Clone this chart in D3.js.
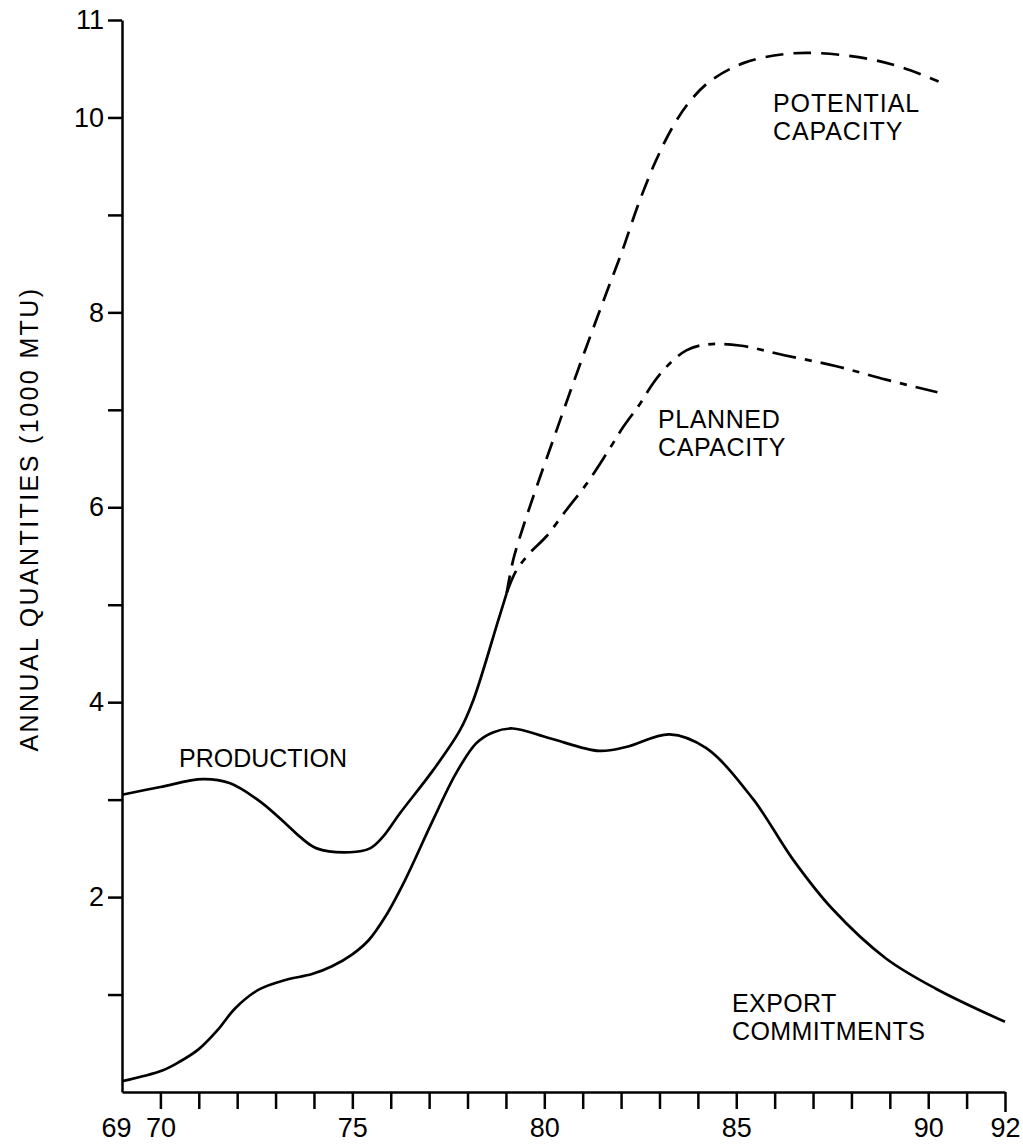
<!DOCTYPE html>
<html>
<head>
	<meta charset="utf-8" />
	<style>
		body {
			margin: 0;
			background-color: #fff;
		}
		svg {
			display: block;
			font-family: 'Liberation Sans', Arial, sans-serif;
		}
		.axis path, .axis line {
			stroke: #000;
			stroke-width: 2.5px;
		}
		.axis text {
			fill: #000;
			font-family: 'Liberation Sans', Arial, sans-serif;
			font-size: 27px;
		}
		.curve {
			fill: none;
			stroke: #000;
			stroke-width: 2.7px;
			stroke-linejoin: round;
		}
		.lbl {
			font-size: 25px;
			fill: #000;
		}
	</style>
</head>
<body>
<div class='chart'></div>

<script src="https://d3js.org/d3.v7.min.js"></script>
<script>

//// Data (years 1969-1992, 1000 MTU) ////
var prodYears  = [69.0, 70.0, 71.1, 71.8, 72.6, 73.3, 73.63, 74.07, 74.94, 75.46, 75.8, 76.24, 77.1, 77.8, 78.15, 78.8, 79.02];
var prodValues = [3.05, 3.13, 3.21, 3.17, 2.98, 2.74, 2.62, 2.50, 2.46, 2.50, 2.62, 2.86, 3.30, 3.71, 4.02, 4.84, 5.12];

var exportYears  = [69.0, 70.05, 70.5, 71.0, 71.5, 71.95, 72.56, 73.26, 73.95, 74.47, 74.99, 75.43, 75.86, 76.38, 77.1, 77.7, 78.23, 78.66, 79.18, 80.14, 81.43, 82.13, 83.26, 84.21, 85.43, 86.47, 87.5, 88.9, 90.2, 92.0];
var exportValues = [0.11, 0.22, 0.31, 0.44, 0.64, 0.86, 1.05, 1.15, 1.21, 1.29, 1.41, 1.56, 1.80, 2.18, 2.79, 3.27, 3.58, 3.69, 3.73, 3.63, 3.50, 3.54, 3.67, 3.53, 3.01, 2.39, 1.88, 1.37, 1.06, 0.72];

var potentialYears  = [79.02, 79.19, 79.45, 79.8, 80.23, 80.66, 81.1, 81.57, 82.02, 82.46, 82.9, 83.34, 83.78, 84.31, 85.2, 86.25, 87.14, 88.46, 89.34, 90.27];
var potentialValues = [5.12, 5.46, 5.80, 6.21, 6.69, 7.17, 7.65, 8.15, 8.62, 9.12, 9.55, 9.90, 10.16, 10.37, 10.56, 10.65, 10.66, 10.6, 10.51, 10.37];

var plannedYears  = [79.02, 79.27, 79.62, 80.05, 80.57, 81.1, 81.62, 82.05, 82.49, 82.83, 83.18, 83.7, 84.22, 85.08, 86.25, 87.58, 88.9, 90.24];
var plannedValues = [5.12, 5.35, 5.53, 5.70, 5.97, 6.24, 6.55, 6.82, 7.06, 7.27, 7.44, 7.61, 7.67, 7.66, 7.56, 7.45, 7.31, 7.18];

var yTicks = [1, 2, 3, 4, 5, 6, 7, 8, 9, 10, 11];
var yTickLabels = [2, 4, 6, 8, 10, 11];
var xTicks = d3.range(69, 93);
var xTickLabels = [69, 70, 75, 80, 85, 90, 92];

var yTitle = 'ANNUAL QUANTITIES (1000 MTU)';

//// Chart ////
var width = 1023, height = 1146;

var svg = d3.select('.chart').append('svg')
	.attr('width', width)
	.attr('height', height);

svg.append('rect')
	.attr('width', width)
	.attr('height', height)
	.attr('fill', '#fff');

// scales
var x = d3.scaleLinear().domain([69, 92]).range([122, 1005]);
var y = d3.scaleLinear().domain([0, 11]).range([1092, 20]);

// x axis
var xAxis = svg.append('g')
	.attr('class', 'axis')
	.attr('transform', 'translate(0,' + y(0) + ')')
	.call(d3.axisBottom(x)
		.tickValues(xTicks)
		.tickSize(17)
		.tickSizeOuter(0)
		.tickPadding(9)
		.tickFormat(function (d) { return xTickLabels.indexOf(d) >= 0 ? d : ''; }));

xAxis.selectAll('.tick')
	.filter(function (d) { return d === 69; })
	.each(function () {
		d3.select(this).select('line').attr('y2', 0);
		d3.select(this).select('text').attr('dx', -6);
	});
xAxis.selectAll('.tick')
	.filter(function (d) { return d === 92; })
	.select('line').attr('y2', 20);

// y axis
var yAxis = svg.append('g')
	.attr('class', 'axis')
	.attr('transform', 'translate(' + x(69) + ',0)')
	.call(d3.axisLeft(y)
		.tickValues(yTicks)
		.tickSize(14)
		.tickSizeOuter(0)
		.tickPadding(4)
		.tickFormat(function (d) { return yTickLabels.indexOf(d) >= 0 ? d : ''; }));

// y axis title
svg.append('text')
	.attr('class', 'lbl')
	.attr('transform', 'translate(38,' + 519 + ') rotate(-90)')
	.attr('text-anchor', 'middle')
	.style('letter-spacing', '2.4px')
	.text(yTitle);

// curves
var line = d3.line()
	.x(function (d) { return x(d[0]); })
	.y(function (d) { return y(d[1]); })
	.curve(d3.curveCatmullRom.alpha(0.5));

function pairs(xs, ys) {
	return xs.map(function (v, i) { return [v, ys[i]]; });
}

svg.append('path')
	.datum(pairs(prodYears, prodValues))
	.attr('class', 'curve')
	.attr('d', line);

svg.append('path')
	.datum(pairs(exportYears, exportValues))
	.attr('class', 'curve')
	.attr('d', line);

svg.append('path')
	.datum(pairs(potentialYears, potentialValues))
	.attr('class', 'curve')
	.attr('stroke-dasharray', '18,10')
	.attr('d', line);

svg.append('path')
	.datum(pairs(plannedYears, plannedValues))
	.attr('class', 'curve')
	.attr('stroke-dasharray', '24,9,7,9')
	.attr('d', line);

// curve labels
function label(x0, y0, lines, spacing) {
	var t = svg.append('text')
		.attr('class', 'lbl')
		.style('letter-spacing', spacing + 'px');
	lines.forEach(function (s, i) {
		t.append('tspan')
			.attr('x', x0)
			.attr('y', y0 + i * 27.5)
			.text(s);
	});
}

label(179, 767, ['PRODUCTION'], 0);
label(732, 1012, ['EXPORT', 'COMMITMENTS'], 0.4);
label(773, 112, ['POTENTIAL', 'CAPACITY'], 0.9);
label(658, 428, ['PLANNED', 'CAPACITY'], 0.6);

</script>
</body>
</html>
